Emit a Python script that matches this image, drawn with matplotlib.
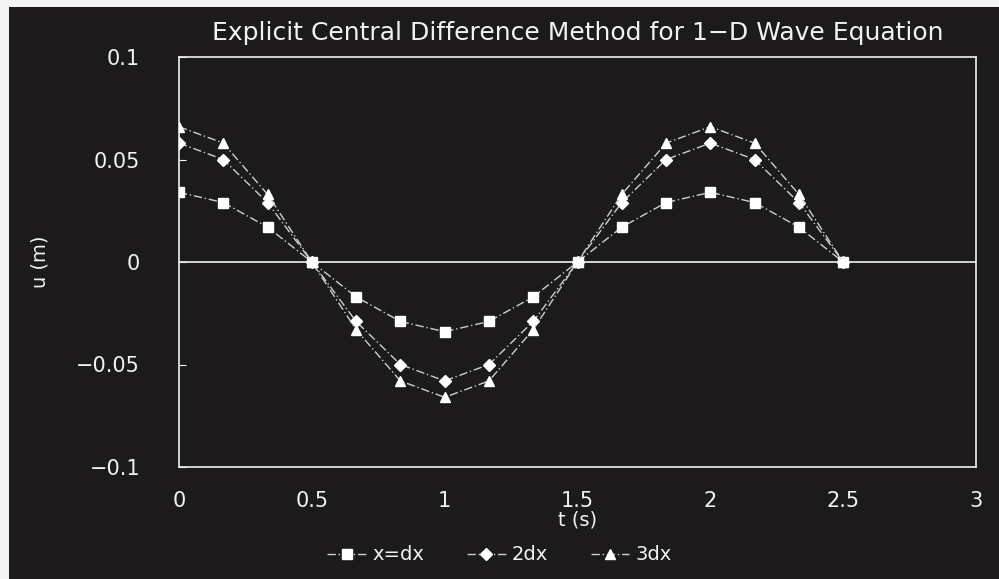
import numpy as np
import matplotlib.pyplot as plt
from matplotlib.patches import Rectangle

# time steps (s)
t = [0, 1/6, 2/6, 3/6, 4/6, 5/6, 1, 7/6, 8/6, 9/6, 10/6, 11/6, 2, 13/6, 14/6, 15/6]

# displacement at the three grid points (m)
u_dx = [0.034, 0.029, 0.017, 0, -0.017, -0.029, -0.034, -0.029, -0.017, 0,
        0.017, 0.029, 0.034, 0.029, 0.017, 0]
u_2dx = [0.058, 0.050, 0.029, 0, -0.029, -0.050, -0.058, -0.050, -0.029, 0,
         0.029, 0.050, 0.058, 0.050, 0.029, 0]
u_3dx = [0.066, 0.058, 0.033, 0, -0.033, -0.058, -0.066, -0.058, -0.033, 0,
         0.033, 0.058, 0.066, 0.058, 0.033, 0]

series_labels = ['x=dx', '2dx', '3dx']
x_ticks = [0, 0.5, 1, 1.5, 2, 2.5, 3]
y_ticks = [-0.1, -0.05, 0, 0.05, 0.1]

BG = '#1c1a1a'
FG = '#f2f2f2'
plt.rcParams['font.family'] = ['DejaVu Sans']

fig = plt.figure(figsize=(9.99, 5.79), dpi=100, facecolor='#f4f4f4')
# dark panel, leaving a thin light strip at the top and left edges
fig.patches.append(Rectangle((9 / 999, 0), 1, 1 - 7 / 579, transform=fig.transFigure,
                             facecolor=BG, edgecolor='none', zorder=-10))
ax = fig.add_axes([179 / 999, 1 - 467 / 579, 797 / 999, 410 / 579])
ax.set_facecolor(BG)

ax.axhline(0, color=FG, lw=1.2, zorder=1)

line_kw = dict(color='#cfcfcf', lw=1.0, ls=(0, (6, 2, 1, 2)), markerfacecolor='white',
               markeredgecolor='white', zorder=3)
ax.plot(t, u_dx, marker='s', ms=7.5, label=series_labels[0], **line_kw)
ax.plot(t, u_2dx, marker='D', ms=6.5, label=series_labels[1], **line_kw)
ax.plot(t, u_3dx, marker='^', ms=7, label=series_labels[2], **line_kw)

ax.set_xlim(0, 3)
ax.set_ylim(-0.1, 0.1)
ax.set_xticks(x_ticks)
ax.set_xticklabels([f'{v:g}' for v in x_ticks])
ax.set_yticks(y_ticks)
ax.set_yticklabels([f'{v:g}'.replace('-', '\u2212') for v in y_ticks])

for s in ax.spines.values():
    s.set_color(FG)
    s.set_linewidth(1.2)
ax.tick_params(axis='both', colors=FG, labelsize=15)
ax.tick_params(axis='x', length=0, pad=17)
ax.tick_params(axis='y', direction='in', length=5, pad=28)

ax.set_title('Explicit Central Difference Method for 1\u2212D Wave Equation',
             color=FG, fontsize=18, pad=12)
ax.set_xlabel('t (s)', color=FG, fontsize=14, labelpad=0)
fig.text(40 / 999, 1 - 262 / 579, 'u (m)', color=FG, fontsize=14, rotation=90,
         ha='center', va='center')

fig.legend(loc='center', bbox_to_anchor=(0.5, 1 - 555 / 579), ncol=3,
           frameon=False, fontsize=14, handlelength=2.0, columnspacing=2.2,
           handletextpad=0.3, labelcolor=FG)

fig.savefig('out.png', dpi=100, facecolor=fig.get_facecolor())
